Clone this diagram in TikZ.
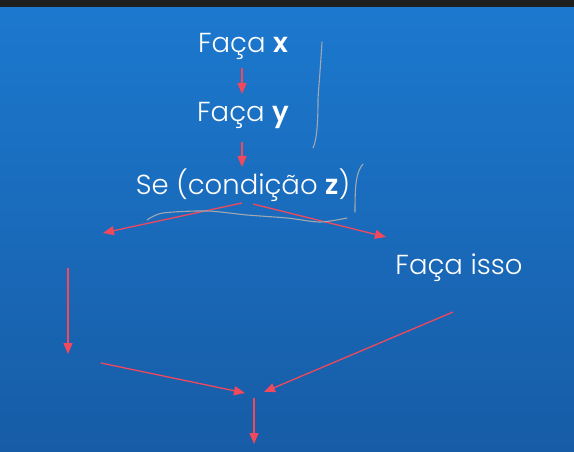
\documentclass[tikz,border=0pt]{standalone}
\usepackage{fontspec}
\setmainfont{Poppins Light}[BoldFont={Poppins SemiBold}]
\usetikzlibrary{arrows.meta}
\definecolor{bgtop}{RGB}{28,121,207}
\definecolor{bgbot}{RGB}{23,92,166}
\definecolor{arr}{RGB}{240,72,92}
\definecolor{scrib}{RGB}{160,168,178}
\tikzset{
  lbl/.style={text=white, font=\fontsize{27.5}{32}\selectfont, inner sep=0pt},
  flow/.style={draw=arr, line width=1.3pt, -{Triangle[length=11pt,width=9pt]}},
  pen/.style={draw=scrib, line width=1.1pt, line cap=round},
}
\begin{document}
\begin{tikzpicture}[x=1pt,y=-1pt]
\useasboundingbox (0,0) rectangle (574,452);
\shade[top color=bgtop, bottom color=bgbot] (0,0) rectangle (574,452);
\fill[black!88] (0,0) rectangle (574,7);
% texts
\node[lbl] (fx) at (243,46) {Faça \textbf{x}};
\node[lbl] (fy) at (243,115) {Faça \textbf{y}};
\node[lbl] (se) at (243,185) {Se (condição \textbf{z})};
\node[lbl] (fi) at (459,268) {Faça isso};
% coordinates
\coordinate (a1s) at (242,68);  \coordinate (a1e) at (242,94);
\coordinate (a2s) at (242,142); \coordinate (a2e) at (242,167);
\coordinate (ls) at (242,203);  \coordinate (le) at (103,233);
\coordinate (rs) at (253,204);  \coordinate (re) at (386,237);
\coordinate (vs) at (68,268);   \coordinate (ve) at (68,354);
\coordinate (ds) at (101,363);  \coordinate (de) at (245,393);
\coordinate (is) at (453,312);  \coordinate (ie) at (264,392);
\coordinate (bs) at (254,398);  \coordinate (be) at (254,444);
% arrows
\draw[flow] (a1s) -- (a1e);
\draw[flow] (a2s) -- (a2e);
\draw[flow] (ls) -- (le);
\draw[flow] (rs) -- (re);
\draw[flow] (vs) -- (ve);
\draw[flow] (ds) -- (de);
\draw[flow] (is) -- (ie);
\draw[flow] (bs) -- (be);
% scribbles
\draw[pen] (322,42) .. controls (320,75) and (318,95) .. (318,100) .. controls (318,120) and (317,140) .. (313,148);
\draw[pen] (363,164) .. controls (356,172) and (355,185) .. (355,212);
\draw[pen] plot[smooth] coordinates {(147,220) (163,213) (207,211) (247,215) (287,218) (320,222) (347,218)};
\end{tikzpicture}
\end{document}
